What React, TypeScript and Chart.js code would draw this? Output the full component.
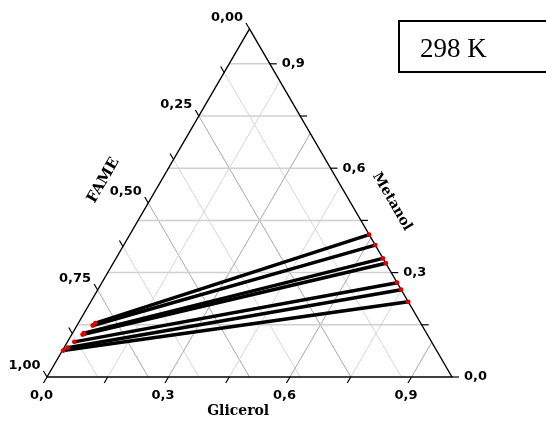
import React, { useEffect, useRef } from "react";
import { Chart, registerables } from "chart.js";

Chart.register(...registerables);

// Tie-line compositions (mass fractions)
// FAME-rich phase (left end)
const leftFAME = [0.803, 0.813, 0.846, 0.851, 0.882, 0.907, 0.922];
const leftMetanol = [0.155, 0.148, 0.126, 0.122, 0.101, 0.084, 0.076];
const leftGlicerol = [0.042, 0.039, 0.028, 0.027, 0.017, 0.009, 0.002];
// Glicerol-rich phase (right end)
const rightFAME = [0.0, 0.0, 0.0, 0.0, 0.0, 0.0, 0.0];
const rightMetanol = [0.409, 0.379, 0.341, 0.327, 0.271, 0.251, 0.216];
const rightGlicerol = [0.591, 0.621, 0.659, 0.673, 0.729, 0.749, 0.784];

// Axis ticks
const fameTicks = [0, 0.125, 0.25, 0.375, 0.5, 0.625, 0.75, 0.875, 1.0];
const fameTickLabels = ["0,00", "", "0,25", "", "0,50", "", "0,75", "", "1,00"];
const metanolTicks = [0, 0.15, 0.3, 0.45, 0.6, 0.75, 0.9];
const metanolTickLabels = ["0,0", "", "0,3", "", "0,6", "", "0,9"];
const glicerolTicks = [0, 0.15, 0.3, 0.45, 0.6, 0.75, 0.9];
const glicerolTickLabels = ["0,0", "", "0,3", "", "0,6", "", "0,9"];

const axisTitles = ["FAME", "Metanol", "Glicerol"];
const temperatureLabel = "298 K";

// ternary (Glicerol, Metanol) -> cartesian
const cart = (g: number, m: number) => ({ x: g + m / 2, y: m });

export default function App() {
  const ref = useRef<HTMLCanvasElement>(null);

  useEffect(() => {
    const canvas = ref.current!;
    const datasets: any[] = [];

    // tie lines
    for (let i = 0; i < leftFAME.length; i++) {
      datasets.push({
        data: [cart(leftGlicerol[i], leftMetanol[i]), cart(rightGlicerol[i], rightMetanol[i])],
        showLine: true,
        borderColor: "#000",
        borderWidth: 3.5,
        borderCapStyle: "butt",
        pointRadius: 2.4,
        pointBackgroundColor: "#e00000",
        pointBorderWidth: 0,
        clip: false,
        order: 0,
      });
    }

    // triangle frame
    datasets.push({
      data: [cart(0, 0), cart(1, 0), cart(0, 1), cart(0, 0)],
      showLine: true,
      borderColor: "#000",
      borderWidth: 1.4,
      pointRadius: 0,
      clip: false,
      order: 1,
    });

    // grid: constant Metanol (horizontal)
    metanolTicks.forEach((m) => {
      if (m <= 0) return;
      datasets.push({
        data: [cart(0, m), cart(1 - m, m)],
        showLine: true,
        borderColor: "#d0d0d0",
        borderWidth: 1.5,
        pointRadius: 0,
        clip: false,
        order: 2,
      });
    });
    // grid: constant Glicerol (parallel to left edge)
    glicerolTicks.forEach((g, i) => {
      if (g <= 0) return;
      datasets.push({
        data: [cart(g, 0), cart(g, 1 - g)],
        showLine: true,
        borderColor: glicerolTickLabels[i] ? "#a8a8a8" : "#d6d6d6",
        borderWidth: 1,
        pointRadius: 0,
        clip: false,
        order: 2,
      });
    });
    // grid: constant FAME (parallel to right edge)
    fameTicks.forEach((f, i) => {
      if (f <= 0 || f >= 1) return;
      datasets.push({
        data: [cart(0, 1 - f), cart(1 - f, 0)],
        showLine: true,
        borderColor: fameTickLabels[i] ? "#a8a8a8" : "#d6d6d6",
        borderWidth: 1,
        pointRadius: 0,
        clip: false,
        order: 2,
      });
    });

    const ternaryPlugin = {
      id: "ternaryAxes",
      afterDatasetsDraw(chart: any) {
        const xs = chart.scales.x;
        const ys = chart.scales.y;
        const P = (g: number, m: number) => [xs.getPixelForValue(g + m / 2), ys.getPixelForValue(m)];
        const ctx = chart.ctx as CanvasRenderingContext2D;
        const norm = (a: number[], b: number[]) => {
          const dx = b[0] - a[0];
          const dy = b[1] - a[1];
          const l = Math.hypot(dx, dy);
          return [dx / l, dy / l];
        };
        const apex = P(0, 1);
        const bl = P(0, 0);
        const br = P(1, 0);
        const dirLeft = norm(br, apex); // up-left
        const dirBottom = norm(apex, bl); // down-left
        const tl = 7;

        ctx.save();
        ctx.strokeStyle = "#000";
        ctx.lineWidth = 1.2;
        ctx.fillStyle = "#000";
        ctx.font = 'bold 13px "DejaVu Sans"';

        // left axis (FAME)
        fameTicks.forEach((f, i) => {
          const p = P(0, 1 - f);
          const e = [p[0] + dirLeft[0] * tl, p[1] + dirLeft[1] * tl];
          ctx.beginPath();
          ctx.moveTo(p[0], p[1]);
          ctx.lineTo(e[0], e[1]);
          ctx.stroke();
          if (fameTickLabels[i]) {
            ctx.textAlign = "right";
            ctx.textBaseline = "middle";
            ctx.fillText(fameTickLabels[i], e[0] - 3, e[1] - 5);
          }
        });
        // right axis (Metanol)
        metanolTicks.forEach((m, i) => {
          const p = P(1 - m, m);
          const e = [p[0] + tl, p[1]];
          ctx.beginPath();
          ctx.moveTo(p[0], p[1]);
          ctx.lineTo(e[0], e[1]);
          ctx.stroke();
          if (metanolTickLabels[i]) {
            ctx.textAlign = "left";
            ctx.textBaseline = "middle";
            ctx.fillText(metanolTickLabels[i], e[0] + 5, e[1]);
          }
        });
        // bottom axis (Glicerol)
        glicerolTicks.forEach((g, i) => {
          const p = P(g, 0);
          const e = [p[0] + dirBottom[0] * tl, p[1] + dirBottom[1] * tl];
          ctx.beginPath();
          ctx.moveTo(p[0], p[1]);
          ctx.lineTo(e[0], e[1]);
          ctx.stroke();
          if (glicerolTickLabels[i]) {
            ctx.textAlign = "center";
            ctx.textBaseline = "middle";
            ctx.fillText(glicerolTickLabels[i], e[0] - 2, e[1] + 13);
          }
        });

        // axis titles
        const ang = Math.atan2(apex[1] - bl[1], apex[0] - bl[0]); // negative (up-right)
        ctx.textAlign = "center";
        ctx.textBaseline = "middle";
        ctx.font = 'bold 15px "DejaVu Serif"';
        const tF = P(-0.143, 0.565);
        ctx.save();
        ctx.translate(tF[0], tF[1]);
        ctx.rotate(ang);
        ctx.fillText(axisTitles[0], 0, 0);
        ctx.restore();
        ctx.font = 'bold 14px "DejaVu Serif"';
        const tM = P(0.6, 0.504);
        ctx.save();
        ctx.translate(tM[0], tM[1]);
        ctx.rotate(-ang);
        ctx.fillText(axisTitles[1], 0, 0);
        ctx.restore();
        const tG = P(0.521, -0.098);
        ctx.fillText(axisTitles[2], tG[0], tG[1]);

        // temperature box
        ctx.lineWidth = 2;
        ctx.strokeRect(399, 21, 160, 51);
        ctx.font = '27px "Liberation Serif"';
        ctx.textAlign = "left";
        ctx.textBaseline = "alphabetic";
        ctx.fillText(temperatureLabel, 420, 57);
        ctx.restore();
      },
    };

    const chart = new Chart(canvas, {
      type: "scatter",
      data: { datasets },
      options: {
        animation: false,
        responsive: false,
        devicePixelRatio: 1,
        layout: { padding: { left: 47, right: 94, top: 29, bottom: 44 } },
        scales: {
          x: { type: "linear", min: 0, max: 1, display: false },
          y: { type: "linear", min: 0, max: 1, display: false },
        },
        plugins: { legend: { display: false }, tooltip: { enabled: false } },
      },
      plugins: [ternaryPlugin],
    });
    return () => chart.destroy();
  }, []);

  return (
    <div style={{ position: "fixed", left: 0, top: 0, width: 546, height: 421, background: "#fff" }}>
      <canvas ref={ref} width={546} height={421} />
    </div>
  );
}
